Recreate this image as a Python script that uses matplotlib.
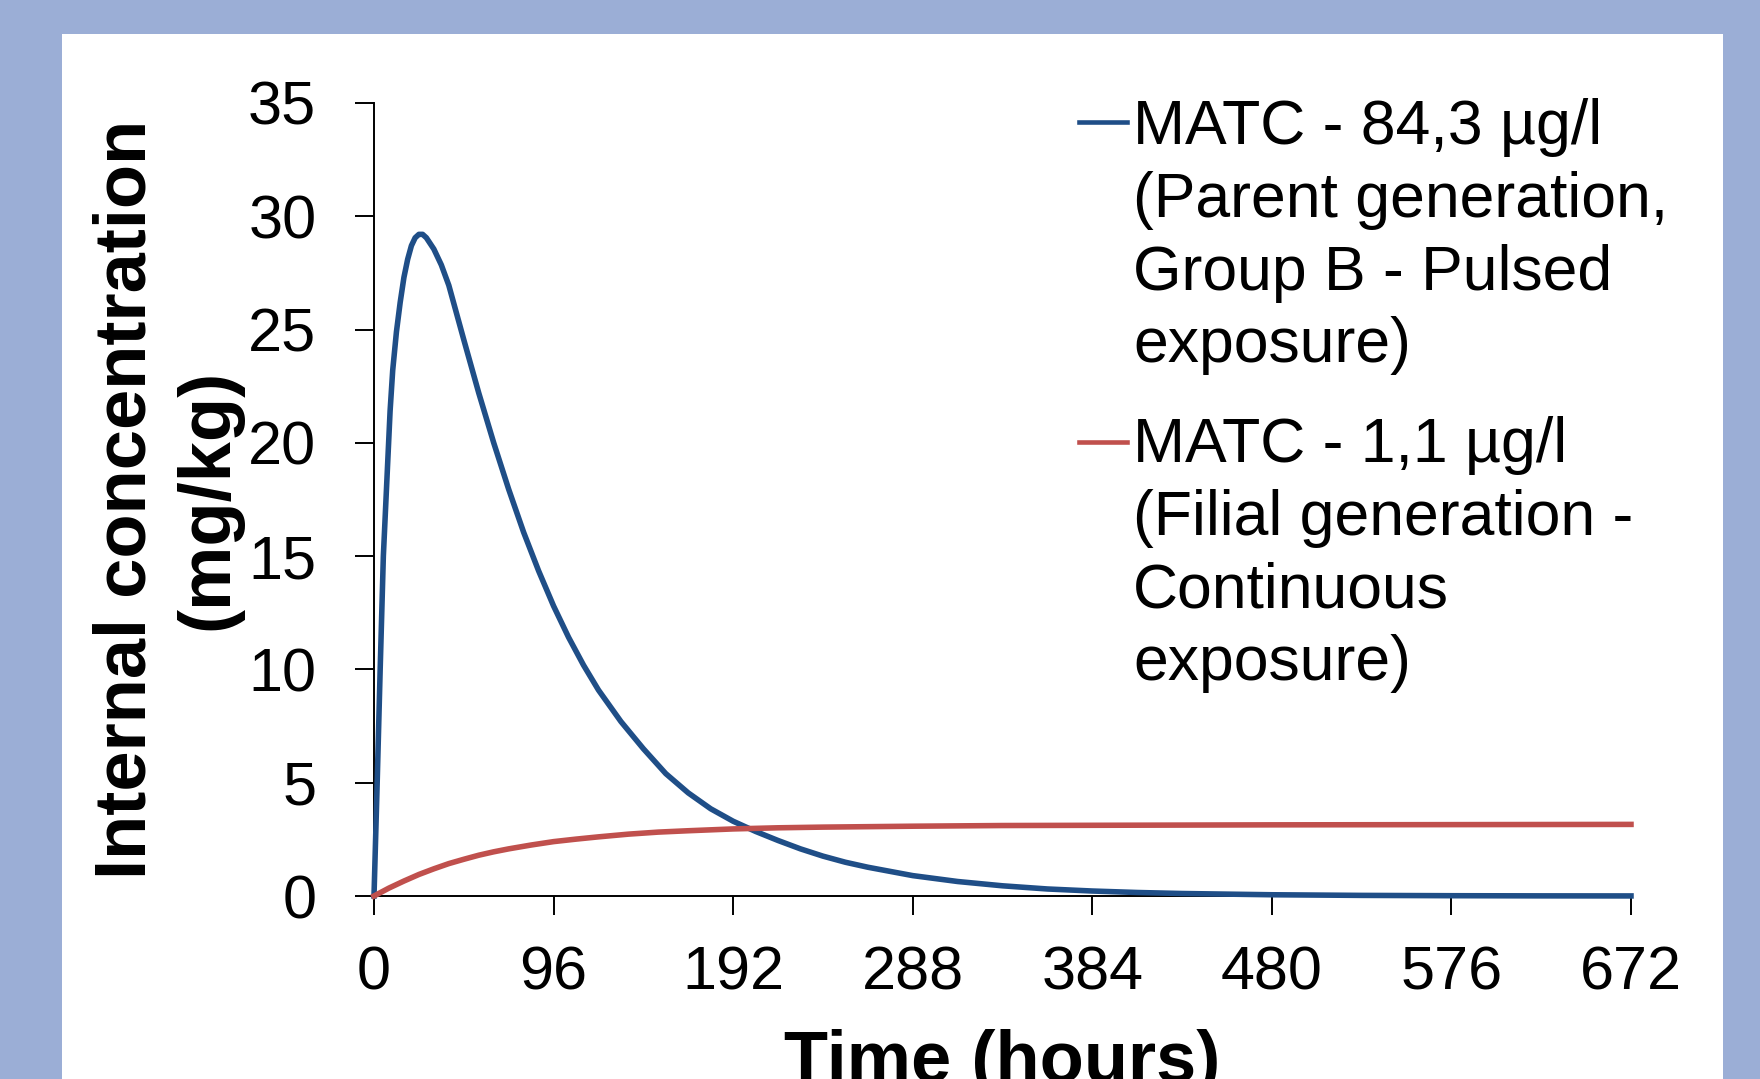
import matplotlib
matplotlib.use("Agg")
import matplotlib.pyplot as plt
from matplotlib.lines import Line2D
from matplotlib.patches import Rectangle

plt.rcParams['font.family'] = ['Liberation Sans', 'DejaVu Sans']

# values
time_pulsed = [0, 1.7, 3.3, 5, 6.8, 8.6, 10, 12, 14, 16, 18, 20, 22, 24, 26, 28, 30,
               32, 36, 40, 44, 48, 56, 64, 72, 80, 88, 96, 104, 112, 120, 132, 144,
               156, 168, 180, 192, 204, 216, 228, 240, 252, 264, 288, 312, 336, 360,
               384, 408, 432, 480, 528, 576, 624, 672]
conc_pulsed = [0, 5, 10, 15, 18.2, 21.4, 23.2, 24.9, 26.2, 27.3, 28.1, 28.7, 29.05, 29.2,
               29.2, 29.05, 28.8, 28.55, 27.85, 26.95, 25.75, 24.55, 22.2, 20.0, 17.95,
               16.05, 14.35, 12.8, 11.42, 10.19, 9.09, 7.7, 6.5, 5.4, 4.55, 3.85, 3.3,
               2.85, 2.45, 2.08, 1.76, 1.49, 1.27, 0.90, 0.64, 0.45, 0.31, 0.22, 0.155,
               0.11, 0.055, 0.027, 0.013, 0.006, 0.003]

time_cont = [0, 8, 16, 24, 32, 40, 48, 56, 64, 72, 84, 96, 108, 120, 136, 152, 168,
             192, 216, 240, 288, 336, 384, 432, 480, 576, 672]
conc_cont = [0, 0.35, 0.66, 0.95, 1.20, 1.43, 1.62, 1.80, 1.95, 2.08, 2.25, 2.40, 2.51,
             2.61, 2.73, 2.82, 2.88, 2.96, 3.01, 3.04, 3.08, 3.11, 3.12, 3.13, 3.14, 3.15, 3.16]

x_ticks = [0, 96, 192, 288, 384, 480, 576, 672]
y_ticks = [0, 5, 10, 15, 20, 25, 30, 35]

label_pulsed = "MATC - 84,3 µg/l\n(Parent generation,\nGroup B - Pulsed\nexposure)"
label_cont = "MATC - 1,1 µg/l\n(Filial generation -\nContinuous\nexposure)"

blue = '#1F4E87'
red = '#C0504D'

fig = plt.figure(figsize=(17.6, 10.79), dpi=100, facecolor='#9BAED6')
# white slide panel behind the chart
fig.patches.append(Rectangle((0.0352, 0), 0.9437, 0.9685, transform=fig.transFigure,
                             facecolor='white', edgecolor='none', zorder=-5))

ax = fig.add_axes([0.2125, 0.1696, 0.7142, 0.735])
ax.set_facecolor('none')

ax.plot(time_pulsed, conc_pulsed, color=blue, lw=4, zorder=3, clip_on=False,
        solid_joinstyle='round')
ax.plot(time_cont, conc_cont, color=red, lw=4, zorder=3, clip_on=False,
        solid_joinstyle='round')

ax.set_xlim(0, 672)
ax.set_ylim(0, 35)
ax.set_xticks(x_ticks)
ax.set_yticks(y_ticks)

for s in ['top', 'right']:
    ax.spines[s].set_visible(False)
for s in ['left', 'bottom']:
    ax.spines[s].set_linewidth(1.4)
    ax.spines[s].set_color('black')

ax.tick_params(axis='both', labelsize=44, length=13.5, width=1.4, direction='out')
ax.tick_params(axis='y', pad=28)
ax.tick_params(axis='x', pad=22)

ax.set_ylabel("Internal concentration\n(mg/kg)", fontsize=52, fontweight='bold',
              linespacing=1.25)
ax.yaxis.set_label_coords(-0.105, 0.5)
ax.set_xlabel("Time (hours)", fontsize=52, fontweight='bold')
ax.xaxis.set_label_coords(0.5, -0.1677)

# legend drawn by hand: handle sits at the first line of each wrapped label
entries = [(label_pulsed, blue, 1.0063, 0.976), (label_cont, red, 0.6053, 0.573)]
for text, col, top_y, handle_y in entries:
    ax.text(0.6038, top_y, text, transform=ax.transAxes, fontsize=45,
            va='top', ha='left', linespacing=1.3)
    ax.add_artist(Line2D([0.561, 0.599], [handle_y, handle_y], transform=ax.transAxes,
                         color=col, lw=3.3, clip_on=False))

fig.savefig('out.png', dpi=100, facecolor=fig.get_facecolor())
